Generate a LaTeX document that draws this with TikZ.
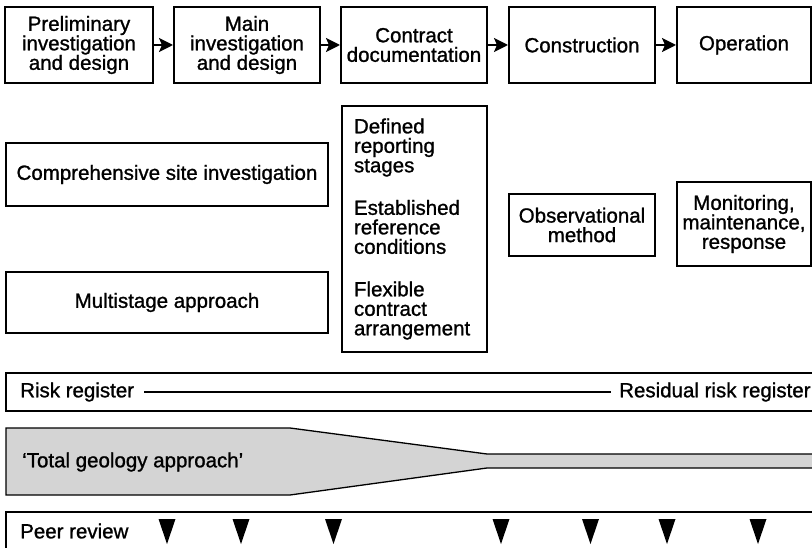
\documentclass[tikz,border=0pt]{standalone}
\usepackage{fontspec}
\setmainfont{Liberation Sans}
\newfontfamily\diagfont{Liberation Sans}[FakeBold=1.1]
\usetikzlibrary{arrows.meta}
\definecolor{geofill}{RGB}{212,212,212}
\begin{document}
\begin{tikzpicture}[x=1pt,y=-1pt,
  txt/.style={font=\diagfont\fontsize{20.5}{19.5}\selectfont},
  stagebox/.style={draw, line width=2pt, align=center, inner sep=0pt, txt},
  itembox/.style={draw, line width=1.3pt, align=center, inner sep=0pt, txt},
  flow/.style={line width=2pt, -{Stealth[length=14pt,width=14pt,inset=3pt]}},
  band/.style={draw, line width=1.3pt},
  lbl/.style={anchor=west, inner sep=0pt, txt},
  marker/.style={fill=black}]
\useasboundingbox (0,0) rectangle (812,548);
\clip (0,0) rectangle (812,548);

% project stages
\node[stagebox, minimum width=148pt, minimum height=76pt] (prelim) at (79,45) {Preliminary\\investigation\\and design};
\node[stagebox, minimum width=146pt, minimum height=76pt] (main) at (247,45) {Main\\investigation\\and design};
\node[stagebox, minimum width=146pt, minimum height=76pt] (contract) at (414,45) {Contract\\documentation};
\node[stagebox, minimum width=146pt, minimum height=76pt] (constr) at (582,45) {Construction};
\node[stagebox, minimum width=134pt, minimum height=76pt] (oper) at (744,45) {Operation};

\draw[flow] (prelim) -- (main);
\draw[flow] (main) -- (contract);
\draw[flow] (contract) -- (constr);
\draw[flow] (constr) -- (oper);

% measures under each stage
\node[itembox, minimum width=322pt, minimum height=63pt] (csi) at (167,174.5) {Comprehensive site investigation};
\node[itembox, minimum width=322pt, minimum height=61pt] (multi) at (167,302.5) {Multistage approach};
\node[itembox, align=left, text width=121pt, inner xsep=12pt, minimum height=246pt] (cdoc) at (414.5,229)
  {Defined\\reporting\\stages\\[23pt]Established\\reference\\conditions\\[23pt]Flexible\\contract\\arrangement};
\node[itembox, minimum width=146pt, minimum height=62pt] (obs) at (582,225) {Observational\\method};
\node[itembox, minimum width=134pt, minimum height=84pt] (monit) at (744,224) {Monitoring,\\maintenance,\\response};

% risk register band
\draw[band] (6,373) rectangle (830,411);
\node[lbl] (risk) at (20,392) {Risk register};
\node[lbl] (resid) at (619,392) {Residual risk register};
\draw[line width=1.3pt, shorten <=10pt, shorten >=8pt] (risk) -- (resid);

% total geology band, narrowing after contract documentation
\draw[band, fill=geofill] (6,428) -- (290,428) -- (487,454) -- (830,454) -- (830,468)
  -- (487,468) -- (290,495) -- (6,495) -- cycle;
\node[lbl] (geo) at (22,462) {‘Total geology approach’};

% peer review band
\draw[band] (6,512) rectangle (830,560);
\node[lbl] (peer) at (20,531) {Peer review};
\foreach \x in {167,241,333.5,501,590.5,667,758}
  \fill[marker] (\x-8.5,519) -- (\x+8.5,519) -- (\x,544) -- cycle;
\end{tikzpicture}
\end{document}
